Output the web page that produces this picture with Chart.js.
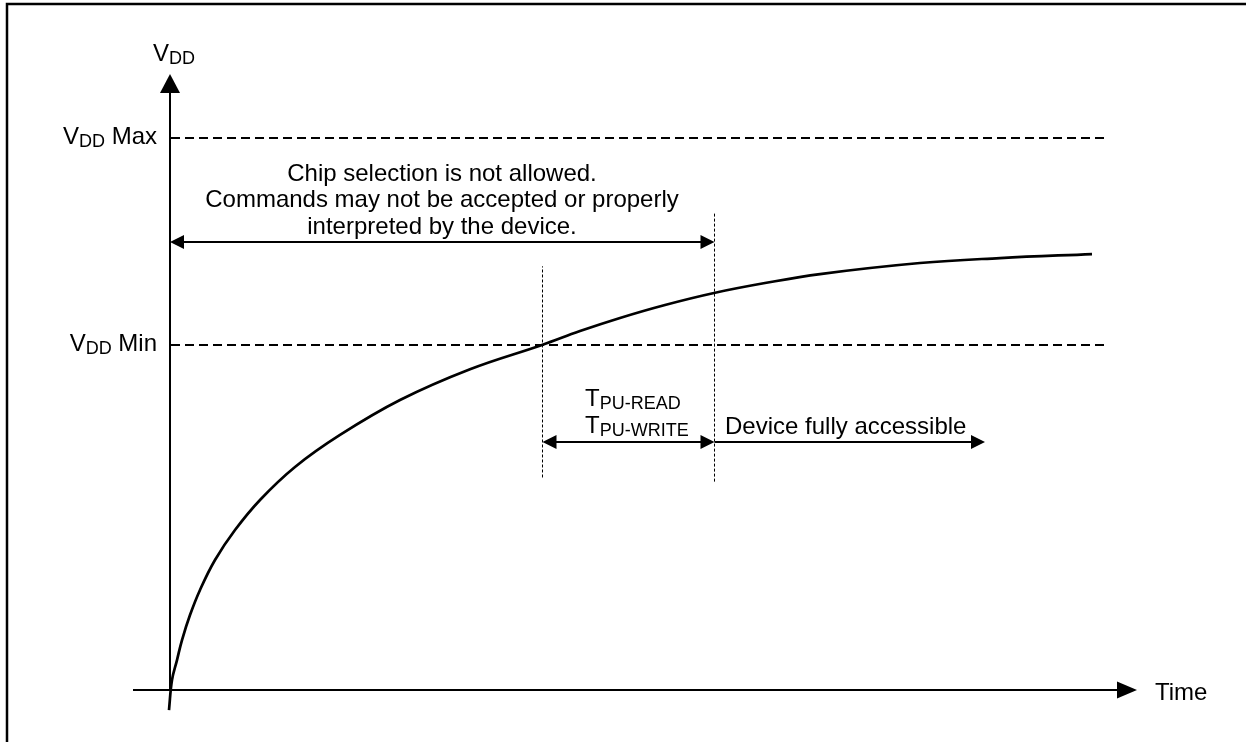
<!DOCTYPE html>
<html><head><meta charset="utf-8">
<script src="https://cdn.jsdelivr.net/npm/chart.js@4/dist/chart.umd.min.js"></script>
<style>html,body{margin:0;padding:0;background:#fff}canvas{display:block}</style>
</head><body>
<canvas id="c" width="1246" height="742"></canvas>
<script>
// ---- Data (time and VDD in arbitrary units) ----
const curveTime = [0, 0.03, 0.08, 0.13, 0.21, 0.31, 0.46, 0.66, 0.91, 1.26, 1.71, 2.31, 3.01, 3.73, 4.11, 4.51, 4.96, 5.45, 5.96, 6.51, 7.51, 8.31, 9.23];
const curveVdd  = [-0.145, 0.072, 0.217, 0.362, 0.543, 0.725, 0.942, 1.159, 1.377, 1.616, 1.848, 2.101, 2.324, 2.5, 2.601, 2.696, 2.790, 2.877, 2.949, 3.014, 3.094, 3.130, 3.159];
const levelNames = ["Max", "Min"];
const levelValues = [4.0, 2.5];
const levelSpan = [0.02, 9.37];           // extent of the dashed level lines (time)
const markerTimes = [3.735, 5.455];       // T(VDD min) and end of TPU
const markerLow = [1.54, 1.51];
const markerHigh = [3.07, 3.46];
const axisTimeSpan = [-0.36, 9.68];
const axisVddTop = 4.464;
const notAllowedLines = ["Chip selection is not allowed.", "Commands may not be accepted or properly", "interpreted by the device."];
const tpuLabels = ["PU-READ", "PU-WRITE"];
const accessLabel = "Device fully accessible";
const timeLabel = "Time";
const vddLabel = "DD";

const FONT = '"Liberation Sans", Arial, sans-serif';
const pts = (xs, ys) => xs.map((x, i) => ({x, y: ys[i]}));

const datasets = [
  {data: pts(curveTime, curveVdd), borderColor: '#000', borderWidth: 2.7, showLine: true, pointRadius: 0, tension: 0.4, order: 0},
];
levelValues.forEach(v => datasets.push({data: [{x: levelSpan[0], y: v}, {x: levelSpan[1], y: v}], borderColor: '#000', borderWidth: 1.8, borderDash: [9, 5], showLine: true, pointRadius: 0, order: 2}));
markerTimes.forEach((t, i) => datasets.push({data: [{x: t, y: markerLow[i]}, {x: t, y: markerHigh[i]}], borderColor: '#000', borderWidth: 1, borderDash: [3, 2], showLine: true, pointRadius: 0, order: 2}));

const annot = {
  id: 'annot',
  afterDatasetsDraw(chart) {
    const ctx = chart.ctx, xs = chart.scales.x, ys = chart.scales.y;
    const X = v => xs.getPixelForValue(v), Y = v => ys.getPixelForValue(v);
    ctx.save();
    ctx.fillStyle = '#000'; ctx.strokeStyle = '#000';
    // frame
    ctx.lineWidth = 2.5;
    ctx.beginPath(); ctx.moveTo(7, 742); ctx.lineTo(7, 4); ctx.lineTo(1246, 4); ctx.stroke();

    function head(tx, ty, dx, dy, len, half) {
      const nx = -dy, ny = dx;
      ctx.beginPath();
      ctx.moveTo(tx, ty);
      ctx.lineTo(tx - dx * len + nx * half, ty - dy * len + ny * half);
      ctx.lineTo(tx - dx * len - nx * half, ty - dy * len - ny * half);
      ctx.closePath(); ctx.fill();
    }
    function hArrow(t0, t1, v, leftHead, rightHead) {
      const y = Y(v), x0 = X(t0), x1 = X(t1);
      ctx.lineWidth = 2;
      ctx.beginPath(); ctx.moveTo(x0 + (leftHead ? 6 : 0), y); ctx.lineTo(x1 - (rightHead ? 6 : 0), y); ctx.stroke();
      if (leftHead) head(x0, y, -1, 0, 14, 7);
      if (rightHead) head(x1, y, 1, 0, 14, 7);
    }
    // axes
    ctx.lineWidth = 2;
    ctx.beginPath(); ctx.moveTo(X(axisTimeSpan[0]), Y(0)); ctx.lineTo(X(axisTimeSpan[1]) - 10, Y(0)); ctx.stroke();
    ctx.beginPath(); ctx.moveTo(X(0.01), Y(0)); ctx.lineTo(X(0.01), Y(axisVddTop) + 10); ctx.stroke();
    head(X(axisTimeSpan[1]), Y(0), 1, 0, 20, 8.5);
    head(X(0.01), Y(axisVddTop), 0, -1, 19, 10);
    // arrows
    hArrow(0.01, markerTimes[1], 3.246, true, true);
    hArrow(markerTimes[0], markerTimes[1], 1.797, true, true);
    hArrow(markerTimes[1], 8.16, 1.797, false, true);

    function sub(x, y, main, s, align, extra) {
      ctx.font = '24px ' + FONT;
      const w1 = ctx.measureText(main).width;
      ctx.font = '18px ' + FONT;
      const w2 = ctx.measureText(s).width;
      ctx.font = '24px ' + FONT;
      const w3 = extra ? ctx.measureText(extra).width : 0;
      let sx = align === 'right' ? x - (w1 + w2 + w3) : x;
      ctx.textAlign = 'left'; ctx.textBaseline = 'alphabetic';
      ctx.font = '24px ' + FONT; ctx.fillText(main, sx, y);
      ctx.font = '18px ' + FONT; ctx.fillText(s, sx + w1, y + 3);
      if (extra) { ctx.font = '24px ' + FONT; ctx.fillText(extra, sx + w1 + w2, y); }
    }
    // VDD axis label
    sub(X(-0.16), Y(4.558), 'V', vddLabel, 'left');
    levelNames.forEach((n, i) => sub(X(-0.12), Y(levelValues[i]) + 6, 'V', vddLabel, 'right', ' ' + n));
    // not-allowed text
    ctx.font = '24px ' + FONT; ctx.textAlign = 'center'; ctx.textBaseline = 'alphabetic';
    const base = [3.688, 3.5, 3.304];
    notAllowedLines.forEach((l, i) => ctx.fillText(l, X(2.73), Y(base[i])));
    // TPU labels
    sub(X(4.16), Y(2.058), 'T', tpuLabels[0], 'left');
    sub(X(4.16), Y(1.862), 'T', tpuLabels[1], 'left');
    ctx.font = '24px ' + FONT; ctx.textAlign = 'left';
    ctx.fillText(accessLabel, X(5.56), Y(1.855));
    ctx.fillText(timeLabel, X(9.86), Y(-0.072));
    ctx.restore();
  }
};

new Chart(document.getElementById('c'), {
  type: 'scatter',
  data: {datasets},
  options: {
    responsive: false, animation: false,
    layout: {padding: 0},
    plugins: {legend: {display: false}, tooltip: {enabled: false}},
    scales: {
      x: {type: 'linear', display: false, min: -1.69, max: 10.77},
      y: {type: 'linear', display: false, min: -0.3768, max: 5.0}
    }
  },
  plugins: [annot]
});
</script>
</body></html>
